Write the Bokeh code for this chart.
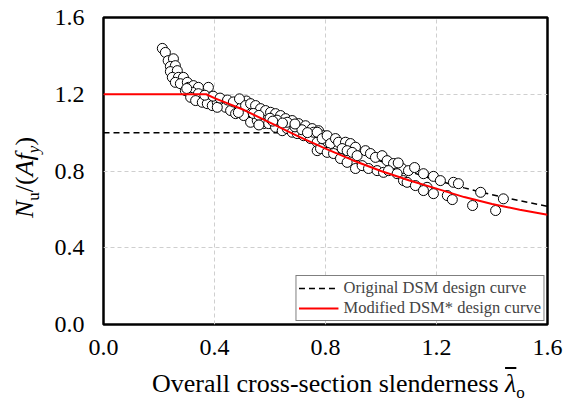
from bokeh.plotting import figure
from bokeh.models import Range1d, Legend, LegendItem, FixedTicker, ColumnDataSource, Div
from bokeh.layouts import row, column
from bokeh.embed import file_html
from bokeh.resources import INLINE

# Test results: overall cross-section slenderness and normalised ultimate load
slenderness = [
    0.212, 0.223, 0.233, 0.252, 0.241, 0.259, 0.241, 0.266, 0.248, 0.270,
    0.288, 0.259, 0.277, 0.302, 0.306, 0.324, 0.342, 0.378, 0.295, 0.320,
    0.342, 0.314, 0.332, 0.356, 0.374, 0.392, 0.410, 0.428, 0.440, 0.410,
    0.458, 0.476, 0.494, 0.505, 0.365, 0.395, 0.420, 0.447, 0.468, 0.515,
    0.300, 0.490, 0.512, 0.530, 0.548, 0.566, 0.584, 0.602, 0.620, 0.638,
    0.656, 0.680, 0.703, 0.728, 0.752, 0.775, 0.793, 0.486, 0.530, 0.554,
    0.577, 0.595, 0.620, 0.644, 0.662, 0.680, 0.698, 0.721, 0.746, 0.770,
    0.770, 0.800, 0.662, 0.757, 0.540, 0.560, 0.600, 0.625, 0.645, 0.690,
    0.715, 0.735, 0.560, 0.690, 0.610, 0.770, 0.788, 0.806, 0.818, 0.836,
    0.847, 0.872, 0.890, 0.908, 0.860, 0.878, 0.896, 0.914, 0.944, 0.962,
    0.980, 1.004, 1.022, 1.045, 1.076, 0.782, 0.806, 0.829, 0.854, 0.878,
    0.908, 0.932, 0.955, 0.986, 1.009, 1.027, 1.058, 1.081, 1.062, 1.099,
    1.121, 1.094, 1.124, 1.153, 1.189, 1.214, 1.166, 1.153, 1.189, 1.239,
    1.261, 1.279, 1.257, 1.330, 1.359, 1.413, 1.441,
]
load_ratio = [
    1.439, 1.418, 1.375, 1.385, 1.345, 1.349, 1.318, 1.323, 1.288, 1.288,
    1.288, 1.262, 1.255, 1.262, 1.236, 1.245, 1.236, 1.236, 1.219, 1.210,
    1.203, 1.184, 1.167, 1.158, 1.151, 1.141, 1.158, 1.167, 1.132, 1.132,
    1.115, 1.099, 1.132, 1.089, 1.195, 1.190, 1.180, 1.170, 1.160, 1.165,
    1.230, 1.176, 1.141, 1.151, 1.141, 1.125, 1.115, 1.106, 1.099, 1.089,
    1.073, 1.063, 1.047, 1.036, 1.021, 1.010, 0.984, 1.105, 1.054, 1.063,
    1.047, 1.047, 1.028, 1.010, 1.021, 1.002, 0.995, 0.984, 0.969, 0.950,
    0.906, 0.932, 1.054, 1.002, 1.100, 1.090, 1.075, 1.065, 1.050, 1.030,
    1.015, 1.000, 1.040, 1.045, 1.060, 1.002, 0.969, 0.984, 0.943, 0.969,
    0.950, 0.950, 0.943, 0.924, 0.917, 0.906, 0.897, 0.880, 0.906, 0.891,
    0.871, 0.880, 0.854, 0.839, 0.813, 0.917, 0.897, 0.891, 0.865, 0.845,
    0.813, 0.828, 0.813, 0.802, 0.793, 0.802, 0.786, 0.750, 0.842, 0.802,
    0.818, 0.741, 0.724, 0.786, 0.772, 0.750, 0.715, 0.698, 0.682, 0.672,
    0.741, 0.734, 0.651, 0.620, 0.689, 0.594, 0.655,
]

# Original DSM design curve
dsm_x = [0.0, 0.776, 0.80, 0.85, 0.90, 0.95, 1.00, 1.05, 1.10, 1.20, 1.30, 1.40, 1.50, 1.60]
dsm_y = [1.0, 1.000, 0.981, 0.944, 0.910, 0.879, 0.850, 0.823, 0.798, 0.752, 0.712, 0.676, 0.645, 0.616]

# Modified DSM* design curve
mod_x = [0.0, 0.37, 0.40, 0.50, 0.60, 0.70, 0.80, 0.90, 1.00, 1.10, 1.20, 1.30, 1.40, 1.50, 1.60]
mod_y = [1.2, 1.20, 1.180, 1.122, 1.052, 0.982, 0.917, 0.855, 0.800, 0.752, 0.708, 0.664, 0.628, 0.598, 0.572]

ticks = [0.0, 0.4, 0.8, 1.2, 1.6]
tick_labels = {0.0: "0.0", 0.4: "0.4", 0.8: "0.8", 1.2: "1.2", 1.6: "1.6"}

SERIF = "Liberation Serif"

# layout: y-title strip (45 px) + plot (518 px); x-title strip underneath
p = figure(
    width=518, height=365,
    x_range=Range1d(0, 1.6), y_range=Range1d(0, 1.6),
    output_backend="svg", toolbar_location=None,
    min_border_left=58, min_border_right=16, min_border_top=17, min_border_bottom=41,
)
p.background_fill_color = "white"
p.border_fill_color = "white"
p.outline_line_color = "black"
p.outline_line_width = 2.5

p.axis.ticker = FixedTicker(ticks=ticks)
p.axis.major_label_overrides = tick_labels
p.axis.axis_line_color = None
p.axis.major_tick_line_color = None
p.axis.minor_tick_line_color = None
p.axis.major_label_text_font = SERIF
p.axis.major_label_text_font_size = "24px"
p.axis.major_label_text_color = "black"
p.xaxis.major_label_standoff = 9
p.yaxis.major_label_standoff = 13

p.xgrid.ticker = FixedTicker(ticks=[0.4, 0.8, 1.2])
p.ygrid.ticker = FixedTicker(ticks=[0.4, 0.8, 1.2])
p.grid.grid_line_color = "#cfcfcf"
p.grid.grid_line_dash = "4 3"
p.grid.grid_line_width = 1

# design curves and test points
r_dsm = p.line(dsm_x, dsm_y, line_color="black", line_width=1.5, line_dash="6 4")
src = ColumnDataSource(dict(x=slenderness, y=load_ratio))
p.scatter("x", "y", source=src, size=10, fill_color="white", line_color="black", line_width=1)
r_mod = p.line(mod_x, mod_y, line_color="red", line_width=2)

legend = Legend(
    items=[
        LegendItem(label="Original DSM design curve", renderers=[r_dsm]),
        LegendItem(label="Modified DSM* design curve", renderers=[r_mod]),
    ],
    location="bottom_right",
    margin=3, padding=2, spacing=0,
    glyph_width=40, glyph_height=20, label_standoff=5, label_height=20,
    label_text_font=SERIF, label_text_font_size="16.5px",
    border_line_color="black", border_line_width=1.5,
    background_fill_color="white", background_fill_alpha=1.0,
)
p.add_layout(legend)

FONT_CSS = "font-family:'Liberation Serif',serif;color:black;white-space:nowrap;line-height:1;"

y_title = Div(
    width=45, height=365, margin=0,
    text=(
        f'<div style="position:absolute;left:12px;top:218px;transform:rotate(-90deg);'
        f'transform-origin:0 0;font-size:26px;{FONT_CSS}">'
        '<i>N</i><sub style="font-size:17px">u</sub>/(<i>Af</i>'
        '<sub style="font-size:17px"><i>y</i></sub>)</div>'
    ),
)

x_title = Div(
    width=563, height=38, margin=0,
    text=(
        f'<div style="position:absolute;left:152px;top:6px;font-size:26px;{FONT_CSS}">'
        'Overall cross-section slenderness '
        '<i style="text-decoration:overline;text-decoration-thickness:1.5px">\u03bb</i>'
        '<sub style="font-size:17px">o</sub></div>'
    ),
)

layout = column(row(y_title, p, spacing=0), x_title, spacing=0)

open("out.html", "w").write(file_html(layout, INLINE))
